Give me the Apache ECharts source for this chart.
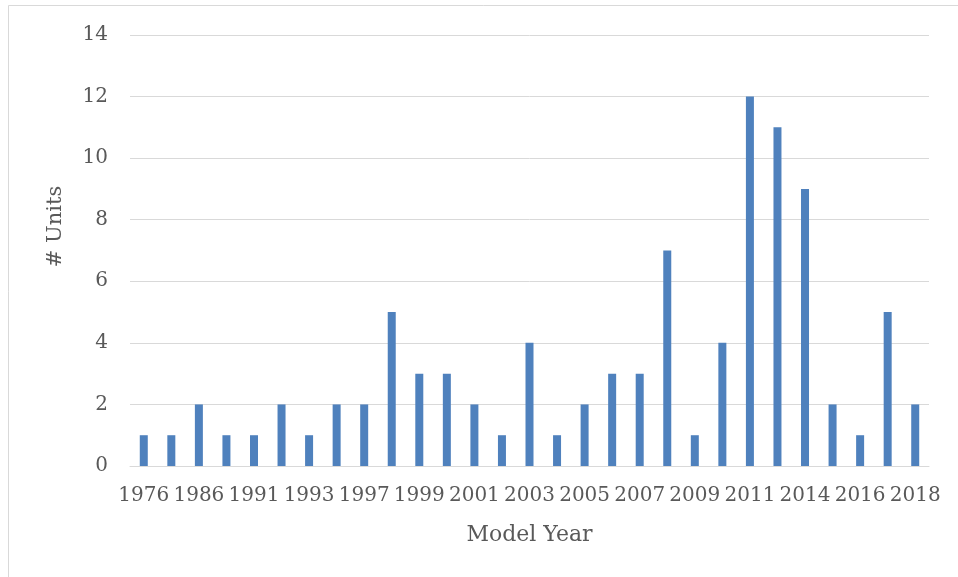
<!DOCTYPE html>
<html>
<head>
<meta charset="utf-8">
<title># Units by Model Year</title>
<script src="https://cdn.jsdelivr.net/npm/echarts@6/dist/echarts.min.js"></script>
<style>
  html, body { margin: 0; padding: 0; background: #fff; }
  #chart { width: 958px; height: 577px; }
</style>
</head>
<body>
<div id="chart"></div>
<script>
// model years (only every other one is labelled in the original)
var years = ['1976', '1985', '1986', '1990', '1991', '1992', '1993', '1995', '1997', '1998',
             '1999', '2000', '2001', '2002', '2003', '2004', '2005', '2006', '2007', '2008',
             '2009', '2010', '2011', '2013', '2014', '2015', '2016', '2017', '2018'];
var units = [1, 1, 2, 1, 1, 2, 1, 2, 2, 5,
             3, 3, 2, 1, 4, 1, 2, 3, 3, 7,
             1, 4, 12, 11, 9, 2, 1, 5, 2];
var yTicks = [0, 2, 4, 6, 8, 10, 12, 14];

var textColor = '#595959';
var fontFamily = '"DejaVu Serif", "Liberation Serif", serif';

var myChart = echarts.init(document.getElementById('chart'));

var option = {
    animation: false,
    backgroundColor: '#fff',
    textStyle: { fontFamily: fontFamily, color: textColor },
    graphic: [{
        type: 'rect',
        shape: { x: 8.5, y: 5.5, width: 960, height: 580 },
        style: { fill: 'none', stroke: '#d9d9d9', lineWidth: 1 },
        silent: true
    }],
    grid: {
        left: 130,
        right: 29,
        top: 35,
        bottom: 111
    },
    xAxis: {
        type: 'category',
        data: years,
        name: 'Model Year',
        nameLocation: 'middle',
        nameGap: 58,
        nameTextStyle: { fontSize: 22, color: textColor, fontFamily: fontFamily },
        axisLine: { lineStyle: { color: '#d9d9d9', width: 1 } },
        axisTick: { show: false },
        axisLabel: {
            interval: 1,
            margin: 20,
            fontSize: 20,
            color: textColor,
            fontFamily: fontFamily
        }
    },
    yAxis: {
        type: 'value',
        min: yTicks[0],
        max: yTicks[yTicks.length - 1],
        interval: 2,
        name: '# Units',
        nameLocation: 'middle',
        nameGap: 64,
        nameTextStyle: { fontSize: 21, color: textColor, fontFamily: fontFamily, padding: [0, 0, 0, 48] },
        axisLine: { show: false },
        axisTick: { show: false },
        axisLabel: {
            margin: 22,
            fontSize: 20,
            color: textColor,
            fontFamily: fontFamily
        },
        splitLine: { lineStyle: { color: '#d9d9d9', width: 1 } }
    },
    series: [{
        name: '# Units',
        type: 'bar',
        data: units,
        barWidth: 8,
        itemStyle: { color: '#4f81bd' }
    }]
};

myChart.setOption(option);
</script>
</body>
</html>
